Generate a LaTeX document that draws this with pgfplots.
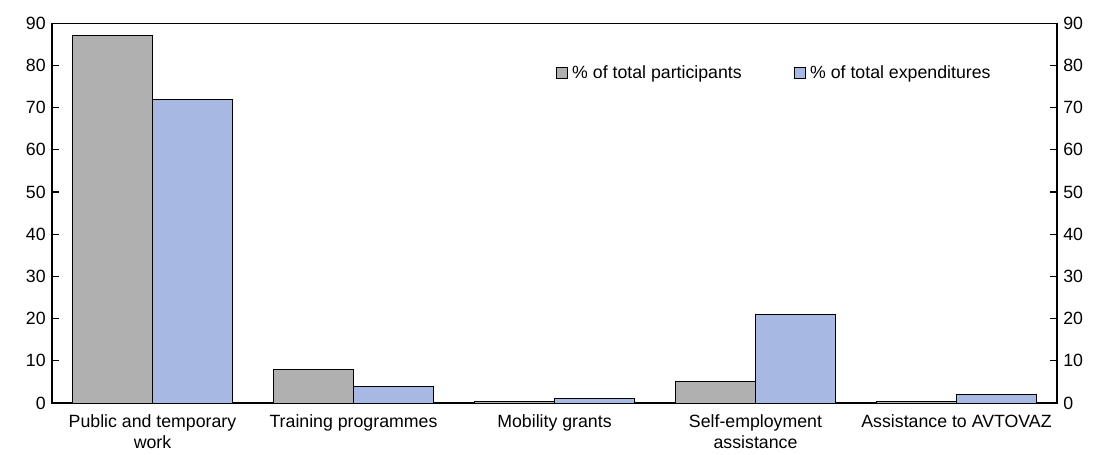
\documentclass[border=0pt]{standalone}
\usepackage{fontspec}
\setmainfont{Liberation Sans}
\usepackage{pgfplots}
\pgfplotsset{compat=1.18}
\definecolor{partgrey}{HTML}{B0B0B0}
\definecolor{expblue}{HTML}{A7B8E3}

\begin{document}
\fontsize{8.9}{10.8}\selectfont
\begin{tikzpicture}
\useasboundingbox (0,0) rectangle (548bp,227.5bp);
\begin{axis}[
    at={(26bp,26bp)}, anchor=south west,
    scale only axis,
    width=502.5bp, height=189.85bp,
    ybar=0pt, bar width=40.2bp,
    xmin=-0.5, xmax=4.5,
    ymin=0, ymax=90,
    ytick={0,10,...,90},
    xtick={0,1,2,3,4},
    xticklabels={Public and temporary\\work, Training programmes, Mobility grants, Self-employment\\assistance, Assistance to AVTOVAZ},
    xticklabel style={align=center, text depth=0pt, yshift=-2.5bp},
    major x tick style={draw=none},
    tick align=inside,
    major tick length=3.5bp,
    ytick pos=both,
    yticklabel pos=left,
    axis line style={line width=0.6pt},
    tick style={line width=0.6pt, black},
    /pgf/number format/assume math mode=true,
    tick label style={font=\fontsize{8.9}{10.8}\selectfont},
    legend style={draw=none, fill=none, at={(0.495,0.869)}, anchor=west,
        legend columns=2, font=\fontsize{8.9}{10.8}\selectfont,
        /tikz/every even column/.append style={column sep=24bp}},
    legend image code/.code={\draw[#1, draw=black, line width=0.4pt] (0bp,-2.6bp) rectangle (5.8bp,2.6bp);},
    clip=false,
]
\addplot[fill=partgrey, draw=black, line width=0.5pt] coordinates {
    (0,87) (1,8) (2,0.4) (3,5) (4,0.4)};
\addlegendentry{\% of total participants}
\addplot[fill=expblue, draw=black, line width=0.5pt] coordinates {
    (0,72) (1,4) (2,1.0) (3,21) (4,1.9)};
\addlegendentry{\% of total expenditures}
\end{axis}
\begin{axis}[
    at={(26bp,26bp)}, anchor=south west,
    scale only axis,
    width=502.5bp, height=189.85bp,
    xmin=-0.5, xmax=4.5,
    ymin=0, ymax=90,
    ytick={0,10,...,90},
    axis x line=none,
    axis y line*=right,
    yticklabel pos=right,
    major tick length=0pt,
    axis line style={draw=none},
    /pgf/number format/assume math mode=true,
    tick label style={font=\fontsize{8.9}{10.8}\selectfont},
]
\addplot[draw=none] coordinates {(0,0)};
\end{axis}
\end{tikzpicture}
\end{document}
